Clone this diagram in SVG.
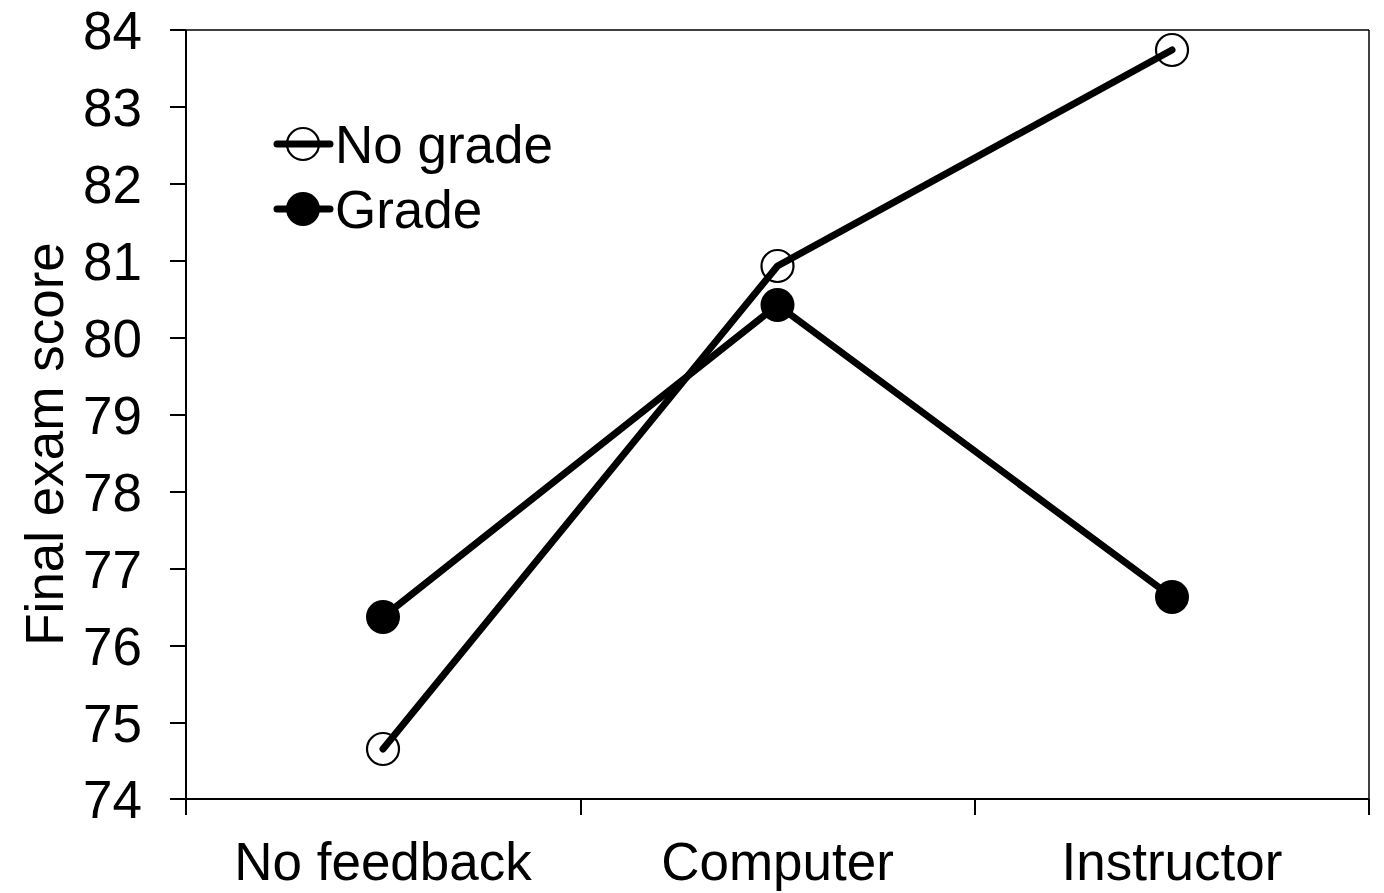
<svg xmlns="http://www.w3.org/2000/svg" width="1384" height="893" viewBox="0 0 1384 893">
  <style>
    .axis { stroke: #000; stroke-width: 2; fill: none; }
    .frame { stroke: #000; stroke-width: 1.5; fill: none; }
    .lbl { font-family: "Liberation Sans", Arial, sans-serif; font-size: 53px; fill: #000; }
    .series { stroke: #000; stroke-width: 7; fill: none; stroke-linejoin: round; stroke-linecap: round; }
    .open { stroke: #000; stroke-width: 2.2; fill: none; }
    .filled { fill: #000; stroke: none; }
  </style>
  <rect width="1384" height="893" fill="#fff"/>

  <g id="plot-frame">
    <line class="frame" x1="186" y1="30" x2="1369" y2="30"/>
    <line class="frame" x1="1369" y1="30" x2="1369" y2="799"/>
  </g>

  <g id="y-axis">
    <line class="axis" x1="186" y1="30" x2="186" y2="815"/>
    <g stroke="#000" stroke-width="2">
      <line x1="170" y1="30" x2="186" y2="30"/>
      <line x1="170" y1="107" x2="186" y2="107"/>
      <line x1="170" y1="184" x2="186" y2="184"/>
      <line x1="170" y1="261" x2="186" y2="261"/>
      <line x1="170" y1="338" x2="186" y2="338"/>
      <line x1="170" y1="415" x2="186" y2="415"/>
      <line x1="170" y1="492" x2="186" y2="492"/>
      <line x1="170" y1="569" x2="186" y2="569"/>
      <line x1="170" y1="646" x2="186" y2="646"/>
      <line x1="170" y1="723" x2="186" y2="723"/>
      <line x1="170" y1="799" x2="186" y2="799"/>
    </g>
    <g class="lbl" text-anchor="end">
      <text x="142" y="49">84</text>
      <text x="142" y="126">83</text>
      <text x="142" y="203">82</text>
      <text x="142" y="280">81</text>
      <text x="142" y="357">80</text>
      <text x="142" y="434">79</text>
      <text x="142" y="511">78</text>
      <text x="142" y="588">77</text>
      <text x="142" y="665">76</text>
      <text x="142" y="742">75</text>
      <text x="142" y="818">74</text>
    </g>
    <text class="lbl" text-anchor="middle" transform="translate(63,444) rotate(-90)">Final exam score</text>
  </g>

  <g id="x-axis">
    <line class="axis" x1="186" y1="799" x2="1369" y2="799"/>
    <g stroke="#000" stroke-width="2">
      <line x1="581" y1="799" x2="581" y2="815"/>
      <line x1="975" y1="799" x2="975" y2="815"/>
      <line x1="1369" y1="799" x2="1369" y2="815"/>
    </g>
    <g class="lbl" text-anchor="middle">
      <text x="383" y="880">No feedback</text>
      <text x="777.5" y="880">Computer</text>
      <text x="1172" y="880">Instructor</text>
    </g>
  </g>

  <g id="series-no-grade">
    <polyline class="series" points="383,749 777.5,266 1172,50"/>
    <circle class="open" cx="383" cy="749" r="16"/>
    <circle class="open" cx="777.5" cy="266" r="16"/>
    <circle class="open" cx="1172" cy="50" r="16"/>
  </g>

  <g id="series-grade">
    <polyline class="series" points="383,617 777.5,305 1172,597"/>
    <circle class="filled" cx="383" cy="617" r="17"/>
    <circle class="filled" cx="777.5" cy="305" r="17"/>
    <circle class="filled" cx="1172" cy="597" r="17"/>
  </g>

  <g id="legend">
    <line class="series" x1="277" y1="144" x2="330" y2="144"/>
    <circle class="open" cx="303" cy="144" r="16"/>
    <text class="lbl" x="335" y="163">No grade</text>
    <line class="series" x1="277" y1="209" x2="330" y2="209"/>
    <circle class="filled" cx="303" cy="209" r="17"/>
    <text class="lbl" x="335" y="228">Grade</text>
  </g>
</svg>
